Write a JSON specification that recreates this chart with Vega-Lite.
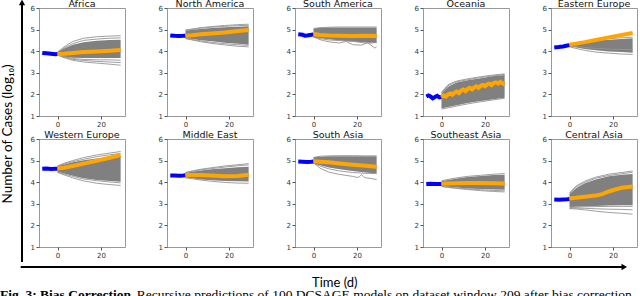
{
 "$schema": "https://vega.github.io/schema/vega-lite/v6.json",
 "padding": {"left": 0, "top": -2, "right": 0, "bottom": 0},
 "background": "white",
 "config": {
  "view": {"stroke": "#999", "strokeWidth": 1},
  "axis": {"labelFont": "DejaVu Sans", "labelFontSize": 7, "labelColor": "#333", "tickColor": "#555", "tickSize": 3, "domain": false, "grid": false, "labelPadding": 1.5, "labelOverlap": false},
  "header": {"labelFont": "DejaVu Sans", "labelFontSize": 9.5, "labelColor": "#111", "labelPadding": -4}
 },
 "datasets": {
  "d": [
   {"r":"Africa","t":-7,"bl":3.92},{"r":"Africa","t":-5,"bl":3.9},{"r":"Africa","t":-3,"bl":3.88},{"r":"Africa","t":-1,"bl":3.86},
   {"r":"Africa","t":0,"lo":3.8,"hi":3.98,"g1":3.95,"g2":3.93,"g3":3.82,"g4":3.84,"g5":3.85,"o":3.86,"bl":3.87},
   {"r":"Africa","t":3,"lo":3.74,"hi":4.12,"g1":4.2,"g2":4.15,"g3":3.7,"g4":3.72,"g5":3.75,"o":3.88},
   {"r":"Africa","t":7,"lo":3.7,"hi":4.3,"g1":4.45,"g2":4.35,"g3":3.58,"g4":3.62,"g5":3.66,"o":3.92},
   {"r":"Africa","t":12,"lo":3.68,"hi":4.42,"g1":4.6,"g2":4.5,"g3":3.5,"g4":3.57,"g5":3.62,"o":3.96},
   {"r":"Africa","t":18,"lo":3.68,"hi":4.48,"g1":4.67,"g2":4.56,"g3":3.45,"g4":3.53,"g5":3.6,"o":3.99},
   {"r":"Africa","t":24,"lo":3.68,"hi":4.52,"g1":4.7,"g2":4.6,"g3":3.4,"g4":3.5,"g5":3.6,"o":4.02},
   {"r":"Africa","t":29,"lo":3.68,"hi":4.53,"g1":4.72,"g2":4.62,"g3":3.35,"g4":3.47,"g5":3.58,"o":4.05},

   {"r":"North America","t":-7,"bl":4.73},{"r":"North America","t":-5,"bl":4.71},{"r":"North America","t":-3,"bl":4.7},{"r":"North America","t":-1,"bl":4.71},
   {"r":"North America","t":0,"lo":4.6,"hi":4.95,"g1":4.98,"g2":4.58,"g3":4.6,"g4":4.96,"o":4.72,"bl":4.72},
   {"r":"North America","t":3,"lo":4.56,"hi":4.99,"g1":5.03,"g2":4.52,"g3":4.54,"g4":5.0,"o":4.74},
   {"r":"North America","t":7,"lo":4.51,"hi":5.03,"g1":5.09,"g2":4.44,"g3":4.48,"g4":5.06,"o":4.78},
   {"r":"North America","t":12,"lo":4.46,"hi":5.07,"g1":5.14,"g2":4.36,"g3":4.41,"g4":5.11,"o":4.82},
   {"r":"North America","t":18,"lo":4.39,"hi":5.11,"g1":5.19,"g2":4.29,"g3":4.35,"g4":5.15,"o":4.87},
   {"r":"North America","t":24,"lo":4.34,"hi":5.13,"g1":5.23,"g2":4.23,"g3":4.3,"g4":5.18,"o":4.93},
   {"r":"North America","t":29,"lo":4.3,"hi":5.15,"g1":5.25,"g2":4.2,"g3":4.27,"g4":5.2,"o":4.98},

   {"r":"South America","t":-7,"bl":4.78},{"r":"South America","t":-5,"bl":4.76},{"r":"South America","t":-4,"bl":4.72},{"r":"South America","t":-3,"bl":4.73},{"r":"South America","t":-1,"bl":4.76},
   {"r":"South America","t":0,"lo":4.62,"hi":5.05,"g1":4.65,"g2":4.7,"g3":5.05,"o":4.8,"bl":4.78},
   {"r":"South America","t":3,"lo":4.6,"hi":5.08,"g2":4.58,"g3":5.09,"o":4.75},
   {"r":"South America","t":4,"g1":4.5},
   {"r":"South America","t":7,"lo":4.55,"hi":5.1,"g2":4.52,"g3":5.11,"o":4.73},
   {"r":"South America","t":8,"g1":4.42},
   {"r":"South America","t":12,"lo":4.5,"hi":5.1,"g1":4.38,"g2":4.49,"g3":5.12,"o":4.72},
   {"r":"South America","t":15,"g1":4.45},
   {"r":"South America","t":18,"lo":4.45,"hi":5.1,"g1":4.3,"g2":4.46,"g3":5.12,"o":4.7},
   {"r":"South America","t":22,"g1":4.28},
   {"r":"South America","t":24,"lo":4.4,"hi":5.1,"g2":4.37,"g3":5.12,"o":4.72},
   {"r":"South America","t":25,"g1":4.4},
   {"r":"South America","t":28,"g1":4.15},
   {"r":"South America","t":29,"lo":4.38,"hi":5.1,"g1":4.2,"g2":4.4,"g3":5.12,"o":4.7},

   {"r":"Oceania","t":-7,"bl":1.9},{"r":"Oceania","t":-6,"bl":1.95},{"r":"Oceania","t":-5,"bl":1.9},{"r":"Oceania","t":-4,"bl":1.82},{"r":"Oceania","t":-3,"bl":1.88},{"r":"Oceania","t":-2,"bl":1.93},{"r":"Oceania","t":-1,"bl":1.86},
   {"r":"Oceania","t":0,"lo":1.35,"hi":2.05,"g1":2.1,"g2":1.32,"g3":2.08,"bl":1.88},
   {"r":"Oceania","t":3,"lo":1.42,"hi":2.35,"g1":2.45,"g2":1.38,"g3":2.4},
   {"r":"Oceania","t":7,"lo":1.5,"hi":2.55,"g1":2.62,"g2":1.46,"g3":2.58},
   {"r":"Oceania","t":12,"lo":1.6,"hi":2.65,"g1":2.72,"g2":1.56,"g3":2.68},
   {"r":"Oceania","t":18,"lo":1.7,"hi":2.75,"g1":2.82,"g2":1.66,"g3":2.78},
   {"r":"Oceania","t":24,"lo":1.78,"hi":2.85,"g1":2.9,"g2":1.75,"g3":2.86},
   {"r":"Oceania","t":29,"lo":1.85,"hi":2.9,"g1":2.95,"g2":1.82,"g3":2.92},
   {"r":"Oceania","t":0,"o":1.86},{"r":"Oceania","t":1,"o":1.95},{"r":"Oceania","t":2,"o":1.9},{"r":"Oceania","t":3,"o":2.0},{"r":"Oceania","t":4,"o":2.04},
   {"r":"Oceania","t":5,"o":1.98},{"r":"Oceania","t":6,"o":2.08},{"r":"Oceania","t":7,"o":2.13},{"r":"Oceania","t":8,"o":2.06},{"r":"Oceania","t":9,"o":2.17},
   {"r":"Oceania","t":10,"o":2.22},{"r":"Oceania","t":11,"o":2.15},{"r":"Oceania","t":12,"o":2.25},{"r":"Oceania","t":13,"o":2.3},{"r":"Oceania","t":14,"o":2.23},
   {"r":"Oceania","t":15,"o":2.32},{"r":"Oceania","t":16,"o":2.37},{"r":"Oceania","t":17,"o":2.3},{"r":"Oceania","t":18,"o":2.4},{"r":"Oceania","t":19,"o":2.44},
   {"r":"Oceania","t":20,"o":2.38},{"r":"Oceania","t":21,"o":2.47},{"r":"Oceania","t":22,"o":2.5},{"r":"Oceania","t":23,"o":2.43},{"r":"Oceania","t":24,"o":2.53},
   {"r":"Oceania","t":25,"o":2.56},{"r":"Oceania","t":26,"o":2.5},{"r":"Oceania","t":27,"o":2.58},{"r":"Oceania","t":28,"o":2.52},{"r":"Oceania","t":29,"o":2.46},

   {"r":"Eastern Europe","t":-7,"bl":4.17},{"r":"Eastern Europe","t":-5,"bl":4.19},{"r":"Eastern Europe","t":-3,"bl":4.22},{"r":"Eastern Europe","t":-1,"bl":4.26},
   {"r":"Eastern Europe","t":0,"lo":4.22,"hi":4.35,"g1":4.2,"g2":4.33,"g3":4.25,"o":4.3,"bl":4.28},
   {"r":"Eastern Europe","t":3,"lo":4.17,"hi":4.38,"g1":4.13,"g2":4.38,"g3":4.22,"o":4.35},
   {"r":"Eastern Europe","t":7,"lo":4.1,"hi":4.43,"g1":4.04,"g2":4.45,"g3":4.17,"o":4.42},
   {"r":"Eastern Europe","t":12,"lo":4.04,"hi":4.48,"g1":3.96,"g2":4.52,"g3":4.13,"o":4.52},
   {"r":"Eastern Europe","t":18,"lo":3.99,"hi":4.53,"g1":3.91,"g2":4.58,"g3":4.1,"o":4.64},
   {"r":"Eastern Europe","t":24,"lo":3.96,"hi":4.57,"g1":3.87,"g2":4.62,"g3":4.08,"o":4.75},
   {"r":"Eastern Europe","t":29,"lo":3.93,"hi":4.6,"g1":3.85,"g2":4.65,"g3":4.07,"o":4.84},

   {"r":"Western Europe","t":-7,"bl":4.62},{"r":"Western Europe","t":-5,"bl":4.63},{"r":"Western Europe","t":-3,"bl":4.61},{"r":"Western Europe","t":-1,"bl":4.62},
   {"r":"Western Europe","t":0,"lo":4.48,"hi":4.75,"g1":4.75,"g2":4.72,"g3":4.45,"g4":4.47,"o":4.63,"bl":4.62},
   {"r":"Western Europe","t":3,"lo":4.4,"hi":4.82,"g1":4.88,"g2":4.84,"g3":4.34,"g4":4.38,"o":4.67},
   {"r":"Western Europe","t":7,"lo":4.3,"hi":4.92,"g1":5.0,"g2":4.95,"g3":4.2,"g4":4.27,"o":4.75},
   {"r":"Western Europe","t":12,"lo":4.18,"hi":5.02,"g1":5.14,"g2":5.06,"g3":4.06,"g4":4.15,"o":4.86},
   {"r":"Western Europe","t":18,"lo":4.1,"hi":5.1,"g1":5.26,"g2":5.18,"g3":3.95,"g4":4.07,"o":4.99},
   {"r":"Western Europe","t":24,"lo":4.05,"hi":5.16,"g1":5.35,"g2":5.27,"g3":3.89,"g4":4.01,"o":5.13},
   {"r":"Western Europe","t":29,"lo":4.02,"hi":5.2,"g1":5.42,"g2":5.33,"g3":3.85,"g4":3.97,"o":5.26},

   {"r":"Middle East","t":-7,"bl":4.31},{"r":"Middle East","t":-5,"bl":4.31},{"r":"Middle East","t":-3,"bl":4.3},{"r":"Middle East","t":-1,"bl":4.31},
   {"r":"Middle East","t":0,"lo":4.22,"hi":4.43,"g1":4.45,"g2":4.2,"g3":4.44,"o":4.33,"bl":4.32},
   {"r":"Middle East","t":3,"lo":4.18,"hi":4.48,"g1":4.52,"g2":4.16,"g3":4.5,"o":4.33},
   {"r":"Middle East","t":7,"lo":4.13,"hi":4.54,"g1":4.6,"g2":4.1,"g3":4.57,"o":4.33},
   {"r":"Middle East","t":12,"lo":4.09,"hi":4.6,"g1":4.67,"g2":4.04,"g3":4.63,"o":4.31},
   {"r":"Middle East","t":18,"lo":4.06,"hi":4.65,"g1":4.75,"g2":3.99,"g3":4.7,"o":4.27},
   {"r":"Middle East","t":24,"lo":4.04,"hi":4.69,"g1":4.81,"g2":3.96,"g3":4.76,"o":4.29},
   {"r":"Middle East","t":29,"lo":4.03,"hi":4.72,"g1":4.86,"g2":3.95,"g3":4.8,"o":4.35},

   {"r":"South Asia","t":-7,"bl":4.96},{"r":"South Asia","t":-5,"bl":4.95},{"r":"South Asia","t":-3,"bl":4.94},{"r":"South Asia","t":-1,"bl":4.95},
   {"r":"South Asia","t":0,"lo":4.85,"hi":5.15,"g1":4.9,"g2":4.88,"g3":5.15,"o":4.97,"bl":4.96},
   {"r":"South Asia","t":3,"lo":4.78,"hi":5.18,"g1":4.65,"g2":4.75,"g3":5.2,"o":4.95},
   {"r":"South Asia","t":7,"lo":4.68,"hi":5.2,"g1":4.47,"g2":4.62,"g3":5.22,"o":4.92},
   {"r":"South Asia","t":12,"lo":4.6,"hi":5.2,"g1":4.36,"g2":4.52,"g3":5.23,"o":4.87},
   {"r":"South Asia","t":18,"lo":4.52,"hi":5.2,"g1":4.27,"g2":4.45,"g3":5.23,"o":4.81},
   {"r":"South Asia","t":20,"g1":4.22},{"r":"South Asia","t":21,"g1":4.24},{"r":"South Asia","t":22,"g1":4.35},{"r":"South Asia","t":23,"g1":4.25},{"r":"South Asia","t":26,"g1":4.18},
   {"r":"South Asia","t":24,"lo":4.45,"hi":5.2,"g1":4.2,"g2":4.41,"g3":5.22,"o":4.76},
   {"r":"South Asia","t":29,"lo":4.4,"hi":5.2,"g1":4.12,"g2":4.4,"g3":5.22,"o":4.72},

   {"r":"Southeast Asia","t":-7,"bl":3.92},{"r":"Southeast Asia","t":-5,"bl":3.93},{"r":"Southeast Asia","t":-3,"bl":3.92},{"r":"Southeast Asia","t":-1,"bl":3.92},
   {"r":"Southeast Asia","t":0,"lo":3.82,"hi":4.05,"g1":3.8,"g2":4.06,"g3":3.81,"o":3.93,"bl":3.92},
   {"r":"Southeast Asia","t":3,"lo":3.79,"hi":4.1,"g1":3.76,"g2":4.13,"g3":3.77,"o":3.94},
   {"r":"Southeast Asia","t":7,"lo":3.75,"hi":4.17,"g1":3.71,"g2":4.2,"g3":3.73,"o":3.95},
   {"r":"Southeast Asia","t":12,"lo":3.71,"hi":4.24,"g1":3.66,"g2":4.27,"g3":3.69,"o":3.96},
   {"r":"Southeast Asia","t":18,"lo":3.68,"hi":4.29,"g1":3.61,"g2":4.32,"g3":3.65,"o":3.96},
   {"r":"Southeast Asia","t":24,"lo":3.66,"hi":4.33,"g1":3.57,"g2":4.37,"g3":3.62,"o":3.95},
   {"r":"Southeast Asia","t":29,"lo":3.65,"hi":4.35,"g1":3.55,"g2":4.4,"g3":3.6,"o":3.94},

   {"r":"Central Asia","t":-7,"bl":3.2},{"r":"Central Asia","t":-5,"bl":3.19},{"r":"Central Asia","t":-3,"bl":3.2},{"r":"Central Asia","t":-1,"bl":3.21},
   {"r":"Central Asia","t":0,"lo":2.85,"hi":3.45,"g1":3.5,"g2":3.48,"g3":2.78,"g4":2.8,"g5":2.82,"o":3.25,"bl":3.22},
   {"r":"Central Asia","t":3,"lo":2.86,"hi":3.72,"g1":3.82,"g2":3.77,"g3":2.76,"g4":2.8,"g5":2.84,"o":3.28},
   {"r":"Central Asia","t":7,"lo":2.88,"hi":3.95,"g1":4.05,"g2":3.99,"g3":2.72,"g4":2.79,"g5":2.86,"o":3.33},
   {"r":"Central Asia","t":12,"lo":2.9,"hi":4.13,"g1":4.23,"g2":4.18,"g3":2.66,"g4":2.77,"g5":2.87,"o":3.38},
   {"r":"Central Asia","t":15,"o":3.45},
   {"r":"Central Asia","t":18,"lo":2.92,"hi":4.27,"g1":4.37,"g2":4.31,"g3":2.6,"g4":2.75,"g5":2.88,"o":3.57},
   {"r":"Central Asia","t":21,"o":3.66},
   {"r":"Central Asia","t":24,"lo":2.93,"hi":4.34,"g1":4.45,"g2":4.39,"g3":2.56,"g4":2.74,"g5":2.88,"o":3.74},
   {"r":"Central Asia","t":29,"lo":2.93,"hi":4.38,"g1":4.52,"g2":4.46,"g3":2.52,"g4":2.72,"g5":2.88,"o":3.8}
  ]
 },
 "vconcat": [
  {
   "hconcat": [
    {
     "width": 22, "height": 254,
     "view": {"stroke": null},
     "data": {"values": [{"p": 1}]},
     "layer": [
      {"mark": {"type": "rule", "color": "#000", "strokeWidth": 2},
       "encoding": {
        "x": {"datum": 1, "type": "quantitative", "scale": {"domain": [0, 1]}, "axis": null},
        "y": {"datum": 0, "type": "quantitative", "scale": {"domain": [0, 1]}, "axis": null},
        "y2": {"datum": 1.012}}},
      {"mark": {"type": "point", "shape": "triangle-up", "filled": true, "color": "#000", "size": 40, "opacity": 1},
       "encoding": {
        "x": {"datum": 1, "type": "quantitative"},
        "y": {"datum": 1.022, "type": "quantitative"}}},
      {"mark": {"type": "text", "text": "Number of Cases (log₁₀)", "angle": 270, "font": "Lato", "fontSize": 13.5, "color": "#000"},
       "encoding": {
        "x": {"datum": 0.35, "type": "quantitative"},
        "y": {"datum": 0.504, "type": "quantitative"}}}
     ]
    },
    {
     "data": {"name": "d"},
     "facet": {"field": "r", "type": "nominal",
      "sort": ["Africa", "North America", "South America", "Oceania", "Eastern Europe", "Western Europe", "Middle East", "South Asia", "Southeast Asia", "Central Asia"],
      "header": {"title": null}},
     "columns": 5,
     "spacing": {"row": 1, "column": 27},
     "resolve": {"axis": {"x": "independent", "y": "independent"}},
     "spec": {
      "width": 86, "height": 108,
      "layer": [
       {"transform": [{"filter": "isValid(datum.lo)"}],
        "mark": {"type": "area", "color": "#808080", "opacity": 1},
        "encoding": {
         "x": {"field": "t", "type": "quantitative", "scale": {"domain": [-8.5, 31], "nice": false, "zero": false}, "axis": {"values": [0, 20], "title": null}},
         "y": {"field": "lo", "type": "quantitative", "scale": {"domain": [1, 6], "nice": false, "zero": false}, "axis": {"values": [1, 2, 3, 4, 5, 6], "title": null, "labelOverlap": false, "tickCount": 6}},
         "y2": {"field": "hi"}}},
       {"transform": [{"fold": ["g1", "g2", "g3", "g4", "g5"], "as": ["i", "v"]}, {"filter": "isValid(datum.v)"}],
        "mark": {"type": "line", "color": "#949494", "strokeWidth": 0.9},
        "encoding": {
         "x": {"field": "t", "type": "quantitative"},
         "y": {"field": "v", "type": "quantitative"},
         "detail": {"field": "i", "type": "nominal"}}},
       {"transform": [{"filter": "isValid(datum.bl)"}],
        "mark": {"type": "line", "color": "#0000ff", "strokeWidth": 4},
        "encoding": {
         "x": {"field": "t", "type": "quantitative"},
         "y": {"field": "bl", "type": "quantitative"}}},
       {"transform": [{"filter": "isValid(datum.o)"}],
        "mark": {"type": "line", "color": "#ffa500", "strokeWidth": 4},
        "encoding": {
         "x": {"field": "t", "type": "quantitative"},
         "y": {"field": "o", "type": "quantitative"}}}
      ]
     }
    }
   ],
   "spacing": 3
  },
  {
   "width": 640, "height": 30,
   "view": {"stroke": null},
   "data": {"values": [{"p": 1}]},
   "layer": [
    {"mark": {"type": "rule", "color": "#000", "strokeWidth": 2},
     "encoding": {
      "x": {"datum": 21, "type": "quantitative", "scale": {"domain": [0, 640]}, "axis": null},
      "x2": {"datum": 632},
      "y": {"datum": 0, "type": "quantitative", "scale": {"domain": [0, 30], "reverse": true}, "axis": null}}},
    {"mark": {"type": "point", "shape": "triangle-right", "filled": true, "color": "#000", "size": 40, "opacity": 1},
     "encoding": {
      "x": {"datum": 634, "type": "quantitative"},
      "y": {"datum": 0, "type": "quantitative"}}},
    {"mark": {"type": "text", "text": "Time (d)", "font": "Lato", "fontSize": 13, "color": "#000", "baseline": "alphabetic"},
     "encoding": {
      "x": {"datum": 340, "type": "quantitative"},
      "y": {"datum": 20, "type": "quantitative"}}},
    {"mark": {"type": "text", "text": "Fig. 3: Bias Correction.", "font": "Liberation Serif", "fontWeight": "bold", "fontSize": 13.5, "color": "#000", "align": "left", "baseline": "alphabetic"},
     "encoding": {
      "x": {"datum": 0, "type": "quantitative"},
      "y": {"datum": 32, "type": "quantitative"}}},
    {"mark": {"type": "text", "text": "Recursive predictions of 100 DCSAGE models on dataset window 209 after bias correction.", "font": "Liberation Serif", "fontSize": 13.5, "color": "#000", "align": "left", "baseline": "alphabetic"},
     "encoding": {
      "x": {"datum": 139, "type": "quantitative"},
      "y": {"datum": 32, "type": "quantitative"}}}
   ]
  }
 ],
 "spacing": 0
}
